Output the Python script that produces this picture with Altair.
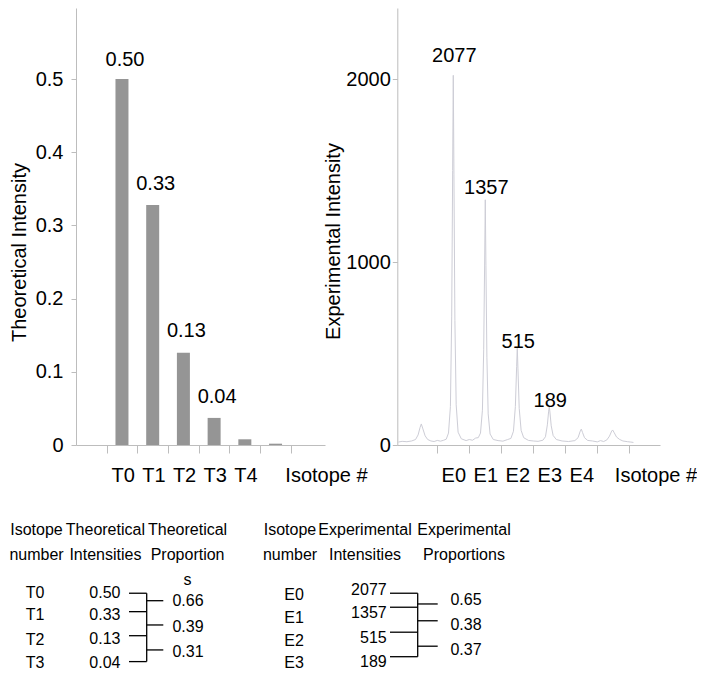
import altair as alt
import pandas as pd

# ----------------------------- data ---------------------------------------
theo_positions = [0, 1, 2, 3, 4, 5]
theo_intensity = [0.50, 0.328, 0.126, 0.037, 0.0078, 0.0018]
theo_bar_text = ["0.50", "0.33", "0.13", "0.04"]
theo_tick_labels = ["T0", "T1", "T2", "T3", "T4"]

exp_tick_labels = ["E0", "E1", "E2", "E3", "E4"]
exp_peak_positions = [0, 1, 2, 3]
exp_peak_values = [2077, 1357, 515, 189]

# experimental trace: (isotope position, intensity)
trace_points = [
    (-1.72, 16), (-1.6, 20), (-1.45, 18), (-1.3, 22), (-1.18, 30), (-1.1, 55),
    (-1.04, 95), (-1.0, 115), (-0.95, 88), (-0.88, 50), (-0.8, 30), (-0.7, 22),
    (-0.6, 19), (-0.5, 25), (-0.4, 21), (-0.3, 26), (-0.22, 32), (-0.15, 65),
    (-0.09, 210), (-0.05, 700), (-0.02, 1500), (0.0, 2020), (0.02, 1480),
    (0.05, 680), (0.09, 220), (0.15, 70), (0.25, 34), (0.4, 24), (0.5, 30),
    (0.6, 26), (0.7, 38), (0.78, 40), (0.85, 65), (0.91, 190), (0.95, 520),
    (0.98, 1000), (1.0, 1340), (1.02, 980), (1.05, 480), (1.09, 170), (1.15, 60),
    (1.25, 30), (1.4, 24), (1.55, 21), (1.7, 30), (1.8, 36), (1.88, 75),
    (1.94, 210), (1.98, 430), (2.0, 530), (2.02, 420), (2.06, 200), (2.12, 80),
    (2.2, 40), (2.35, 25), (2.5, 22), (2.65, 20), (2.8, 26), (2.88, 45),
    (2.94, 110), (2.98, 185), (3.0, 210), (3.02, 180), (3.06, 105), (3.12, 52),
    (3.22, 30), (3.4, 22), (3.6, 19), (3.8, 24), (3.9, 40), (3.96, 72),
    (4.0, 87), (4.04, 68), (4.1, 40), (4.2, 25), (4.35, 22), (4.5, 17),
    (4.6, 24), (4.7, 19), (4.8, 28), (4.88, 48), (4.95, 76), (4.98, 82),
    (5.02, 70), (5.1, 44), (5.2, 30), (5.3, 22), (5.45, 18), (5.55, 16), (5.63, 14),
]

tab_t_iso = ["T0", "T1", "T2", "T3"]
tab_t_int = ["0.50", "0.33", "0.13", "0.04"]
tab_t_prop = ["0.66", "0.39", "0.31"]
tab_e_iso = ["E0", "E1", "E2", "E3"]
tab_e_int = ["2077", "1357", "515", "189"]
tab_e_prop = ["0.65", "0.38", "0.37"]
tab_t_header = [["Isotope", "number"], ["Theoretical", "Intensities"], ["Theoretical", "Proportion", "s"]]
tab_e_header = [["Isotope", "number"], ["Experimental", "Intensities"], ["Experimental", "Proportions"]]

# ----------------------------- layout / style -------------------------------
W, H = 689, 662
FONT = "Liberation Sans, Arial, sans-serif"
FS = 20
TFS = 16
AXIS_GRAY = "#bdbdbd"
BAR_GRAY = "#959595"
TRACE_COL = "#cdcdd6"
Y_RANGE = [437, 0]
L_X = dict(domain=[-1.334, 6.447], range=[68, 317])
R_X = dict(domain=[-1.75, 6.46], range=[389.3, 652])
L_Y_DOM = [0, 0.597]
R_Y_DOM = [0, 2388]

# table layout: x in plot px, y in row units
ROW_DOM, ROW_RANGE = [0, 3], [585, 655]
HDR_ROWS = [-2.7, -1.63, -0.56]
TAB = {
    "T": dict(hdr_x=[28.5, 97.4, 179.6], iso_x=27, iso_rows=[0, 0.95, 2.0, 3.0],
              int_right=112.5, int_rows=[0, 0.95, 1.98, 3.0],
              br=[121, 138.7, 155.3], line_rows=[0.01, 0.8, 1.83, 2.94],
              out_rows=[0.33, 1.37, 2.44], prop_x=180, prop_rows=[0.33, 1.44, 2.52]),
    "E": dict(hdr_x=[282, 357, 456], iso_x=286, iso_rows=[0.07, 1.07, 2.07, 3.0],
              int_right=378.7, int_rows=[-0.14, 0.86, 1.93, 2.97],
              br=[382, 409.7, 429.7], line_rows=[0.01, 0.61, 1.68, 2.73],
              out_rows=[0.47, 1.19, 2.28], prop_x=458, prop_rows=[0.3, 1.37, 2.44]),
}


def x_axis(labels, title_x):
    n = 7
    vals = [i - 0.5 for i in range(n)]
    arr = "[" + ",".join("'%s'" % s for s in labels + [""] * (n - len(labels))) + "]"
    return alt.Axis(
        values=vals, labelExpr=f"{arr}[round(datum.value + 0.5)]",
        orient="bottom", offset=437 - H, grid=False,
        tickSize=8, tickColor=AXIS_GRAY, tickWidth=1, domainColor=AXIS_GRAY, domainWidth=1,
        labelOffset=16, labelPadding=12, labelFont=FONT, labelFontSize=FS,
        labelColor="black", labelOverlap=False, labelFlush=False,
        title="Isotope #", titleX=title_x, titleY=30, titleAlign="center",
        titleBaseline="middle", titleFont=FONT, titleFontSize=FS,
        titleFontWeight="normal", titleColor="black",
    )


def y_axis(values, fmt, offset, pad, title, title_x, title_y):
    return alt.Axis(
        values=values, format=fmt, orient="left", offset=offset, grid=False,
        tickSize=5, tickColor=AXIS_GRAY, domainColor=AXIS_GRAY,
        labelPadding=pad, labelFont=FONT, labelFontSize=FS, labelColor="black",
        labelOverlap=False, labelFlush=False,
        title=title, titleX=title_x, titleY=title_y, titleAlign="center",
        titleBaseline="middle", titleFont=FONT, titleFontSize=FS,
        titleFontWeight="normal", titleColor="black",
    )


# ----------------------------- left panel ----------------------------------
bars_df = pd.DataFrame({"pos": theo_positions, "val": theo_intensity})
bar_lab_df = pd.DataFrame({"pos": theo_positions[:len(theo_bar_text)],
                           "val": [float(s) for s in theo_bar_text],
                           "txt": theo_bar_text})
lx = alt.X("pos:Q", scale=alt.Scale(domain=L_X["domain"], range=L_X["range"], nice=False, zero=False),
           axis=x_axis(theo_tick_labels, 318))
ly = alt.Y("val:Q", scale=alt.Scale(domain=L_Y_DOM, range=Y_RANGE, nice=False),
           axis=y_axis([0, 0.1, 0.2, 0.3, 0.4, 0.5], ".1~f", -68, 8,
                       "Theoretical Intensity", -57, 244))
bars = alt.Chart(bars_df).mark_bar(size=13, color=BAR_GRAY).encode(x=lx, y=ly)
bar_labels = alt.Chart(bar_lab_df).mark_text(
    font=FONT, fontSize=FS, color="black", baseline="middle", dx=3, dy=-19
).encode(x=lx, y=ly, text="txt:N")
left = alt.layer(bars, bar_labels)

# ----------------------------- right panel ---------------------------------
trace_df = pd.DataFrame(trace_points, columns=["pos", "val"])
peak_df = pd.DataFrame({"pos": exp_peak_positions, "val": exp_peak_values,
                        "txt": [str(v) for v in exp_peak_values]})
rx = alt.X("pos:Q", scale=alt.Scale(domain=R_X["domain"], range=R_X["range"], nice=False, zero=False),
           axis=x_axis(exp_tick_labels, 647.5))
ry = alt.Y("val:Q", scale=alt.Scale(domain=R_Y_DOM, range=Y_RANGE, nice=False),
           axis=y_axis([0, 1000, 2000], "d", -389.3, 2,
                       "Experimental Intensity", -63.5, 233))
trace = alt.Chart(trace_df).mark_line(color=TRACE_COL, strokeWidth=1).encode(
    x=rx, y=ry, order="pos:Q")
peak_labels = alt.Chart(peak_df).mark_text(
    font=FONT, fontSize=FS, color="black", baseline="middle", dx=1, dy=-9
).encode(x=rx, y=ry, text="txt:N")
right = alt.layer(trace, peak_labels)

# ----------------------------- tables --------------------------------------
center_rows, right_rows, rule_rows = [], [], []
for key, hdr, iso, ints, props in [("T", tab_t_header, tab_t_iso, tab_t_int, tab_t_prop),
                                   ("E", tab_e_header, tab_e_iso, tab_e_int, tab_e_prop)]:
    L = TAB[key]
    for ci, lines in enumerate(hdr):
        for li, word in enumerate(lines):
            center_rows.append({"x": L["hdr_x"][ci], "row": HDR_ROWS[li], "txt": word})
    for s, r in zip(iso, L["iso_rows"]):
        center_rows.append({"x": L["iso_x"], "row": r, "txt": s})
    for s, r in zip(props, L["prop_rows"]):
        center_rows.append({"x": L["prop_x"], "row": r, "txt": s})
    for s, r in zip(ints, L["int_rows"]):
        right_rows.append({"x": L["int_right"], "row": r, "txt": s})
    b0, b1, b2 = L["br"]
    for r in L["line_rows"]:
        rule_rows.append({"x": b0, "x2": b1, "row": r, "row2": r})
    rule_rows.append({"x": b1, "x2": b1, "row": L["line_rows"][0], "row2": L["line_rows"][-1]})
    for r in L["out_rows"]:
        rule_rows.append({"x": b1, "x2": b2, "row": r, "row2": r})

tx_scale = alt.Scale(domain=[0, W], range=[0, W], nice=False, zero=False)
ty_scale = alt.Scale(domain=ROW_DOM, range=ROW_RANGE, nice=False, zero=False)
tx = alt.X("x:Q", scale=tx_scale, axis=None)
ty = alt.Y("row:Q", scale=ty_scale, axis=None)

t_center = alt.Chart(pd.DataFrame(center_rows)).mark_text(
    font=FONT, fontSize=TFS, color="black", align="center", baseline="middle"
).encode(x=tx, y=ty, text="txt:N")
t_right = alt.Chart(pd.DataFrame(right_rows)).mark_text(
    font=FONT, fontSize=TFS, color="black", align="right", baseline="middle"
).encode(x=tx, y=ty, text="txt:N")
t_rules = alt.Chart(pd.DataFrame(rule_rows)).mark_rule(color="black", strokeWidth=1.3).encode(
    x=tx, x2="x2:Q", y=ty, y2="row2:Q")
table = alt.layer(t_rules, t_center, t_right)

chart = (
    alt.layer(left, right, table)
    .resolve_scale(x="independent", y="independent")
    .resolve_axis(x="independent", y="independent")
    .properties(width=W, height=H, padding=0, autosize=alt.AutoSizeParams(type="none"),
                background="white")
    .configure_view(stroke=None)
)

chart.save("out.html", embed_options={"renderer": "svg", "actions": False})
